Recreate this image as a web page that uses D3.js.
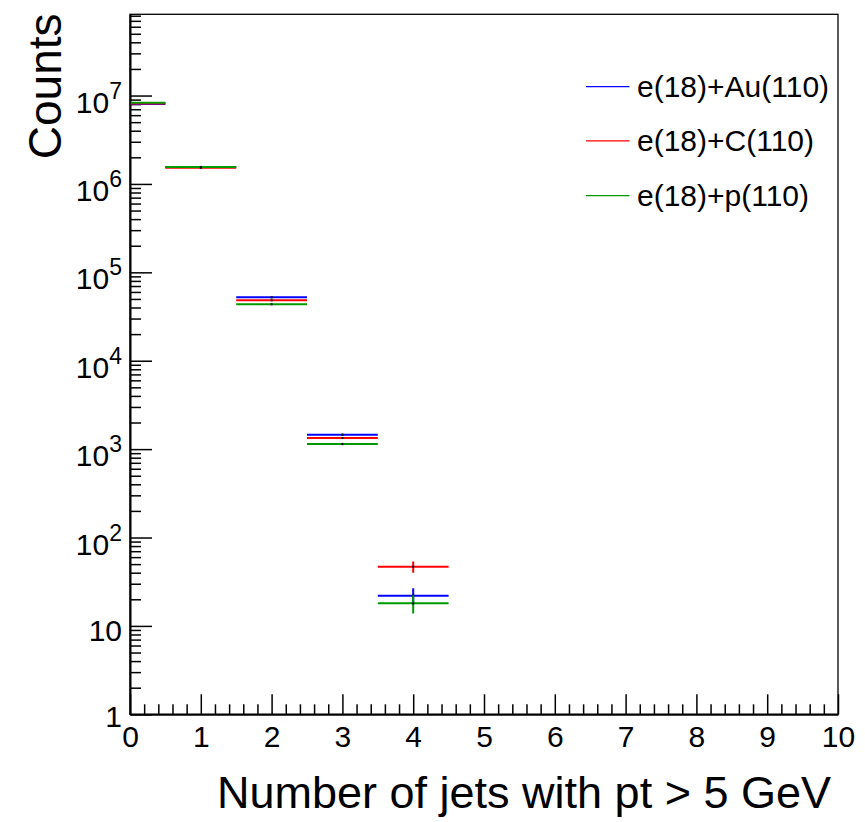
<!DOCTYPE html>
<html>
<head>
<meta charset="utf-8">
<script src="https://cdn.jsdelivr.net/npm/d3@7"></script>
<style>
  body { margin: 0; background: #fff; }
  svg { display: block; font-family: "Liberation Sans", Arial, Helvetica, sans-serif; }
</style>
</head>
<body>
<svg id="chart" width="865" height="822"></svg>
<script>
// bin centres (number of jets)
const bins = [0, 1, 2, 3, 4];
const binWidth = 1;

// series, values
const seriesNames = ["e(18)+Au(110)", "e(18)+C(110)", "e(18)+p(110)"];
const seriesColors = ["#0000ff", "#ff0000", "#009900"];
const auCounts = [8.0e6, 1.55e6, 52100, 1455, 22.0];
const cCounts = [8.15e6, 1.52e6, 48200, 1336, 46.7];
const pCounts = [8.3e6, 1.55e6, 43450, 1142, 18.0];
const auErrors = [2830, 1245, 228, 38, 4.7];
const cErrors = [2855, 1233, 220, 37, 6.8];
const pErrors = [2880, 1245, 208, 34, 4.2];

const xTicks = [0, 1, 2, 3, 4, 5, 6, 7, 8, 9, 10];
const yMajor = [1, 10, 1e2, 1e3, 1e4, 1e5, 1e6, 1e7];
const yMax = 8.3e7;

const series = [
  { name: seriesNames[0], color: seriesColors[0], counts: auCounts, errors: auErrors },
  { name: seriesNames[1], color: seriesColors[1], counts: cCounts, errors: cErrors },
  { name: seriesNames[2], color: seriesColors[2], counts: pCounts, errors: pErrors }
];

const frameL = 130, frameR = 838, frameT = 14.3, frameB = 714.3;

const svg = d3.select("#chart");

const x = d3.scaleLinear().domain([0, 10]).range([frameL, frameR]);
const y = d3.scaleLog().domain([1, yMax]).range([frameB, frameT]);

svg.append("defs").append("clipPath").attr("id", "frame")
  .append("rect")
  .attr("x", frameL).attr("y", frameT)
  .attr("width", frameR - frameL).attr("height", frameB - frameT);

// frame
svg.append("rect")
  .attr("x", frameL).attr("y", frameT)
  .attr("width", frameR - frameL).attr("height", frameB - frameT)
  .attr("fill", "none").attr("stroke", "#000").attr("stroke-width", 1.3);

// x axis: minor then major ticks
const xMinor = d3.range(0, 50).map(i => i * 0.2).filter(v => Math.abs(v - Math.round(v)) > 1e-6);
svg.append("g")
  .attr("transform", "translate(0," + frameB + ")")
  .call(d3.axisBottom(x).tickValues(xMinor).tickSize(-10).tickFormat(""))
  .call(g => g.select(".domain").remove())
  .call(g => g.selectAll("line").attr("stroke-width", 1.5));

svg.append("g")
  .attr("transform", "translate(0," + frameB + ")")
  .call(d3.axisBottom(x).tickValues(xTicks).tickSize(-20).tickSizeOuter(0).tickFormat(d3.format("d")))
  .call(g => g.select(".domain").attr("stroke-width", 2))
  .call(g => g.selectAll("line").attr("stroke-width", 1.5))
  .call(g => g.selectAll("text")
    .attr("fill", "#000")
    .attr("font-size", 30)
    .attr("font-family", "Liberation Sans, Arial, sans-serif")
    .attr("y", 33).attr("dy", 0));

// y axis: minor ticks
const yMinor = [];
yMajor.forEach(m => { for (let k = 2; k <= 9; k++) if (m * k <= yMax) yMinor.push(m * k); });

svg.append("g")
  .attr("transform", "translate(" + frameL + ",0)")
  .call(d3.axisLeft(y).tickValues(yMinor).tickSize(-11).tickFormat(""))
  .call(g => g.select(".domain").remove())
  .call(g => g.selectAll("line").attr("stroke-width", 1.5));

svg.append("g")
  .attr("transform", "translate(" + frameL + ",0)")
  .call(d3.axisLeft(y).tickValues(yMajor).tickSize(-22).tickSizeOuter(0).tickFormat(""))
  .call(g => g.select(".domain").attr("stroke-width", 2))
  .call(g => g.selectAll("line").attr("stroke-width", 1.5));

// y labels with exponents
const yLab = svg.append("g")
  .attr("font-size", 30)
  .attr("text-anchor", "end");
yMajor.forEach(v => {
  const e = Math.round(Math.log10(v));
  const t = yLab.append("text").attr("x", 122);
  if (e < 2) {
    t.attr("y", y(v) + (e === 0 ? 13 : 15)).text(e === 0 ? "1" : "10");
  } else {
    t.attr("y", y(v) + 17).text("10");
    t.append("tspan").attr("font-size", 23).attr("dy", -14).text(e);
  }
});

// axis titles
svg.append("text")
  .attr("x", 831).attr("y", 808)
  .attr("text-anchor", "end")
  .attr("font-size", 45)
  .text("Number of jets with pt > 5 GeV");

svg.append("text")
  .attr("transform", "translate(61,13.5) rotate(-90)")
  .attr("text-anchor", "end")
  .attr("font-size", 46)
  .text("Counts");

// histograms
const plot = svg.append("g").attr("clip-path", "url(#frame)");

series.forEach(s => {
  const g = plot.append("g");
  bins.forEach((b, i) => {
    const v = s.counts[i], err = s.errors[i];
    g.append("line")
      .attr("x1", x(b - binWidth / 2)).attr("x2", x(b + binWidth / 2))
      .attr("y1", y(v)).attr("y2", y(v))
      .attr("stroke", s.color).attr("stroke-width", 2);
    g.append("line")
      .attr("x1", x(b)).attr("x2", x(b))
      .attr("y1", y(v + err)).attr("y2", y(Math.max(v - err, 1)))
      .attr("stroke", s.color).attr("stroke-width", 2);
    g.append("rect")
      .attr("x", x(b) - 1).attr("y", y(v) - 1)
      .attr("width", 2).attr("height", 2)
      .attr("fill", "#000");
  });
});

// legend
const legendY = [86.7, 140.9, 195.7];
const legend = svg.append("g");
series.forEach((s, i) => {
  legend.append("line")
    .attr("x1", 586).attr("x2", 629.5)
    .attr("y1", legendY[i]).attr("y2", legendY[i])
    .attr("stroke", s.color).attr("stroke-width", 1.3);
  legend.append("text")
    .attr("x", 637).attr("y", legendY[i] + 10)
    .attr("font-size", 30)
    .text(s.name);
});
</script>
</body>
</html>
